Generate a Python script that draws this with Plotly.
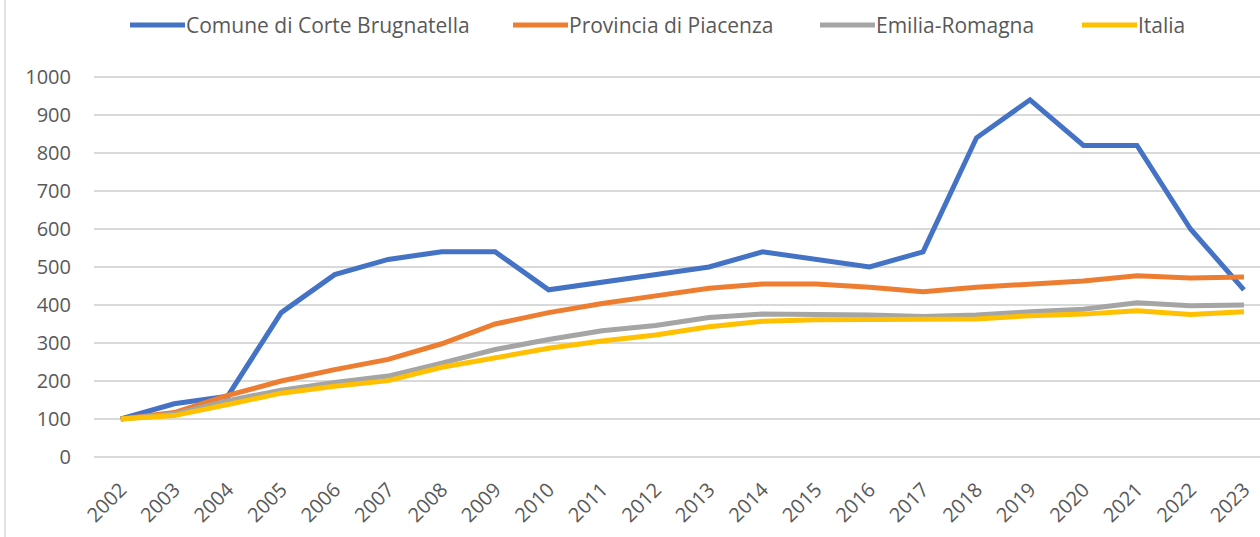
import plotly.graph_objects as go

years = [str(y) for y in range(2002, 2024)]
corte = [100, 140, 160, 380, 480, 520, 540, 540, 440, 460, 480, 500, 540, 520, 500, 540, 840, 940, 820, 820, 600, 440]
piacenza = [100, 117, 162, 200, 230, 257, 298, 350, 380, 404, 424, 444, 455, 455, 447, 435, 447, 456, 463, 477, 471, 474]
emilia = [100, 113, 148, 176, 196, 213, 247, 283, 309, 332, 346, 367, 376, 376, 374, 370, 374, 382, 389, 406, 398, 400]
italia = [100, 109, 138, 168, 186, 201, 236, 262, 286, 305, 321, 343, 357, 361, 361, 360, 363, 372, 376, 385, 375, 382]

names = ["Comune di Corte Brugnatella", "Provincia di Piacenza", "Emilia-Romagna", "Italia"]
colors = ["#4472C4", "#ED7D31", "#A5A5A5", "#FFC000"]
values = [corte, piacenza, emilia, italia]

FONT = "Open Sans, sans-serif"
TXT = "#595959"
W, H = 1260, 537
L, R, T, B = 94, 0, 58, 80
PW, PH = W - L - R, H - T - B

def px_x(p):
    return (p - L) / PW

def px_y(p):
    return (H - B - p) / PH

fig = go.Figure()
for name, vals, col in zip(names, values, colors):
    fig.add_trace(go.Scatter(x=years, y=vals, name=name, mode="lines",
                             line=dict(color=col, width=5), showlegend=False))

# custom legend (line swatch + label) to match the reference spacing
leg_line_x = [130, 513, 820, 1082]
leg_y = 25
shapes = [dict(type="line", xref="paper", yref="paper", x0=px_x(5), x1=px_x(5),
               y0=px_y(H), y1=px_y(0), line=dict(color="#D9D9D9", width=1.5))]
annotations = []
for name, col, lx in zip(names, colors, leg_line_x):
    shapes.append(dict(type="line", xref="paper", yref="paper",
                       x0=px_x(lx), x1=px_x(lx + 55), y0=px_y(leg_y), y1=px_y(leg_y),
                       line=dict(color=col, width=5)))
    annotations.append(dict(text=name, xref="paper", yref="paper", x=px_x(lx + 54),
                            y=px_y(leg_y), xanchor="left", yanchor="middle", showarrow=False,
                            font=dict(family=FONT, size=21, color=TXT)))

fig.update_layout(
    width=W, height=H,
    margin=dict(l=L, r=R, t=T, b=B, autoexpand=False),
    paper_bgcolor="white", plot_bgcolor="white",
    font=dict(family=FONT, size=20, color=TXT),
    showlegend=False,
    xaxis=dict(type="category", range=[-0.5, 21.3], showgrid=False, showline=False,
               automargin=False, ticks="", tickangle=-45, ticklabelstandoff=16,
               tickfont=dict(family=FONT, size=20, color=TXT)),
    yaxis=dict(range=[0, 1050], dtick=100, showgrid=True, gridcolor="#D9D9D9", gridwidth=1.5,
               zeroline=True, zerolinecolor="#D9D9D9", zerolinewidth=1.5, showline=False,
               automargin=False, ticks="", ticklabelstandoff=22,
               tickfont=dict(family=FONT, size=20, color=TXT)),
    shapes=shapes,
    annotations=annotations,
)

fig.write_html("out.html", config={"displayModeBar": False},
               post_script="document.body.style.margin='0';")
